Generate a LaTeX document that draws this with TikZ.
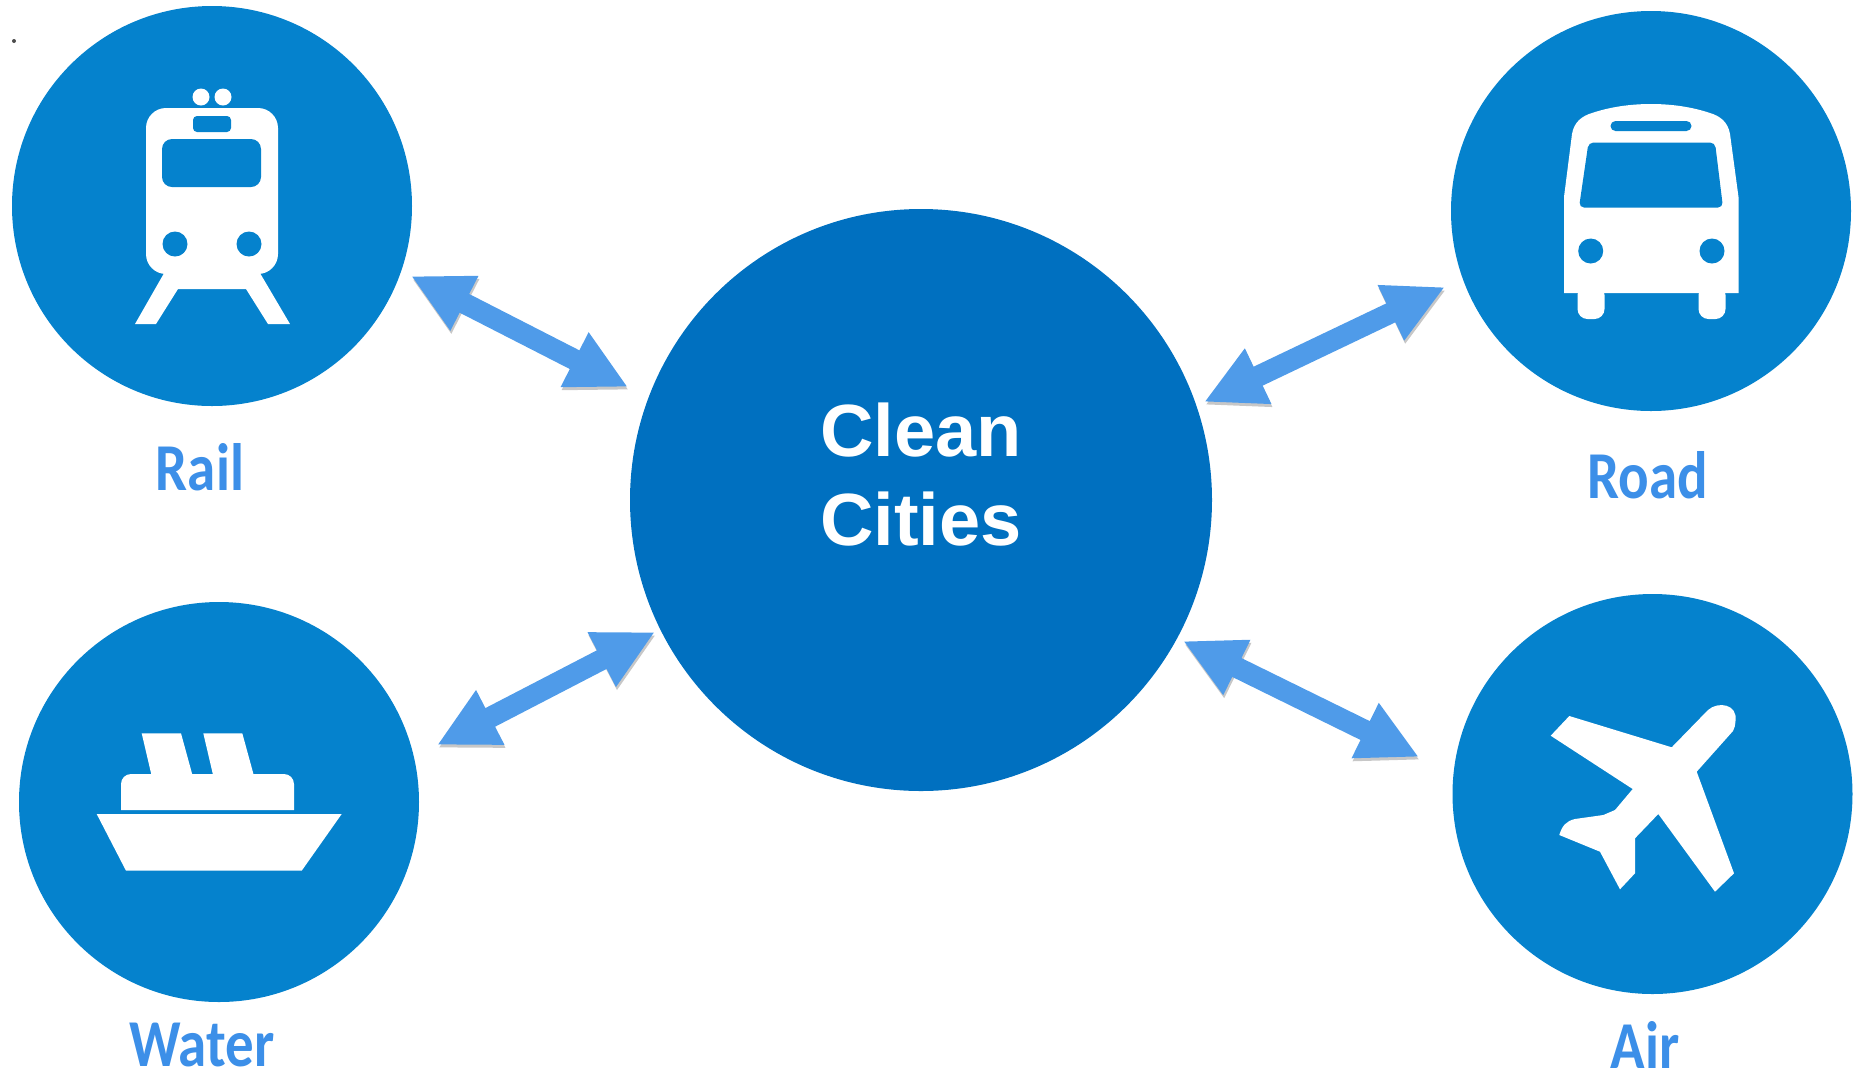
\documentclass[tikz,border=0pt]{standalone}
\usepackage{fontspec}
\usepackage{graphicx}
\usepackage{tikz}
\usetikzlibrary{arrows.meta}
\setmainfont{Liberation Sans}
\newfontfamily\modefont{Carlito}
\newcommand{\narrowtext}[1]{\scalebox{.85}[1]{#1}}
\definecolor{modeblue}{RGB}{5,130,205}
\definecolor{hubblue}{RGB}{0,112,192}
\definecolor{linkblue}{RGB}{79,155,233}
\definecolor{labelblue}{RGB}{60,143,232}

\begin{document}
\begin{tikzpicture}[x=0.5pt,y=-0.5pt]
    \tikzstyle{mode}=[circle,fill=modeblue,minimum size=200pt,inner sep=0pt]
    \tikzstyle{hub}=[mode,fill=hubblue,minimum size=291pt]
    \tikzstyle{annot}=[anchor=base,inner sep=0pt,text=labelblue,font=\modefont\bfseries\fontsize{33.5}{36}\selectfont]
    \tikzstyle{hub text}=[inner sep=0pt,align=center,text=white,font=\bfseries\fontsize{37}{44.5}\selectfont]
    \tikzstyle{link}=[{Triangle[length=30pt,width=28.5pt]}-{Triangle[length=30pt,width=28.5pt]},draw=linkblue,line width=10.5pt,
        preaction={draw=black,opacity=.22,transform canvas={xshift=.5pt,yshift=-1.5pt}}]
    \tikzstyle{icon}=[fill=white]
    \tikzstyle{hole}=[fill=modeblue]

    \useasboundingbox (0,0) rectangle (1854,1073);

    % Draw the circles
    \node[mode] (rail) at (212,206) {};
    \node[mode] (road) at (1651,211) {};
    \node[mode] (water) at (219,802) {};
    \node[mode] (air) at (1652.5,794) {};
    \node[hub] (city) at (921,500) {};
    \node[hub text] (city-text) at (921,475) {Clean\\Cities};
    \node[circle,fill=black!70,minimum size=2pt,inner sep=0pt] (speck) at (14,41) {};

    % Annotate the circles
    \node[annot] (rail-text) at (200,490) {\narrowtext{Rail}};
    \node[annot] (road-text) at (1648,498) {\narrowtext{Road}};
    \node[annot] (water-text) at (202,1066) {\narrowtext{Water}};
    \node[annot] (air-text) at (1645,1068) {\narrowtext{Air}};

    % Arrow ends
    \coordinate (rail-a) at (411,276);
    \coordinate (rail-b) at (628,387);
    \coordinate (road-a) at (1445,287);
    \coordinate (road-b) at (1204,402);
    \coordinate (water-a) at (437,745);
    \coordinate (water-b) at (655,632);
    \coordinate (air-a) at (1419,757);
    \coordinate (air-b) at (1183,641);
    \draw[link] (rail-a) -- (rail-b);
    \draw[link] (road-a) -- (road-b);
    \draw[link] (water-a) -- (water-b);
    \draw[link] (air-a) -- (air-b);

    % Train
    \fill[icon,rounded corners=10pt] (146,108) rectangle (278,274);
    \fill[icon] (167,268) -- (135,324) -- (156,324) -- (178,289) -- (246,289) -- (268,324) -- (290,324) -- (257,268) -- cycle;
    \fill[icon] (201,97) circle (4.25pt);
    \fill[icon] (223,97) circle (4.25pt);
    \fill[hole,rounded corners=2pt] (193,116) rectangle (231,132);
    \fill[hole,rounded corners=5pt] (162,139) rectangle (261,187);
    \fill[hole] (175,244) circle (6.25pt);
    \fill[hole] (249,244) circle (6.25pt);

    % Bus
    \fill[icon] (1572,134) .. controls (1574,122) and (1582,116) .. (1592,113) .. controls (1610,107) and (1630,104) .. (1651,104)
        .. controls (1672,104) and (1692,107) .. (1710,113) .. controls (1720,116) and (1728,122) .. (1730,134)
        -- (1738.5,197) -- (1738.5,293) -- (1564,293) -- (1564,197) -- cycle;
    \fill[icon,rounded corners=5pt] (1577.5,285) rectangle (1604.5,319);
    \fill[icon,rounded corners=5pt] (1698.5,285) rectangle (1725.5,319);
    \fill[hole,rounded corners=2.5pt] (1610.5,121) rectangle (1691.5,131);
    \fill[hole,rounded corners=2.5pt] (1588.5,142.5) -- (1715,142.5) -- (1723,207.5) -- (1579,207.5) -- cycle;
    \fill[hole] (1590.7,251) circle (6.25pt);
    \fill[hole] (1712,251) circle (6.25pt);

    % Ship
    \fill[icon] (96.7,814) -- (341.7,814) -- (301.7,870.7) -- (126,870.7) -- cycle;
    \fill[icon,rounded corners=5pt] (121,810) -- (121,774) -- (294,774) -- (294,810);
    \fill[icon] (141.7,733.3) -- (181,733.3) -- (192.7,776) -- (151.7,776) -- cycle;
    \fill[icon] (203.3,733.3) -- (242.3,733.3) -- (254,776) -- (213.3,776) -- cycle;

    % Plane
    \fill[icon] (1708,710) .. controls (1718,701) and (1738,704) .. (1735.5,721) .. controls (1735,725) and (1735,728) .. (1733,731) -- (1696.7,771.7)
        -- (1734,873.3) -- (1715,891.7) -- (1658.3,814) -- (1635,838.3) -- (1635,873.3) -- (1620,889.3) -- (1600,851.7)
        -- (1559.3,835) .. controls (1562,826) and (1566,821) .. (1575,819) -- (1603.3,815) -- (1615,810) -- (1632.7,789)
        -- (1550.7,735.7) -- (1569.3,716) -- (1671.7,747.3) -- cycle;
\end{tikzpicture}
\end{document}
